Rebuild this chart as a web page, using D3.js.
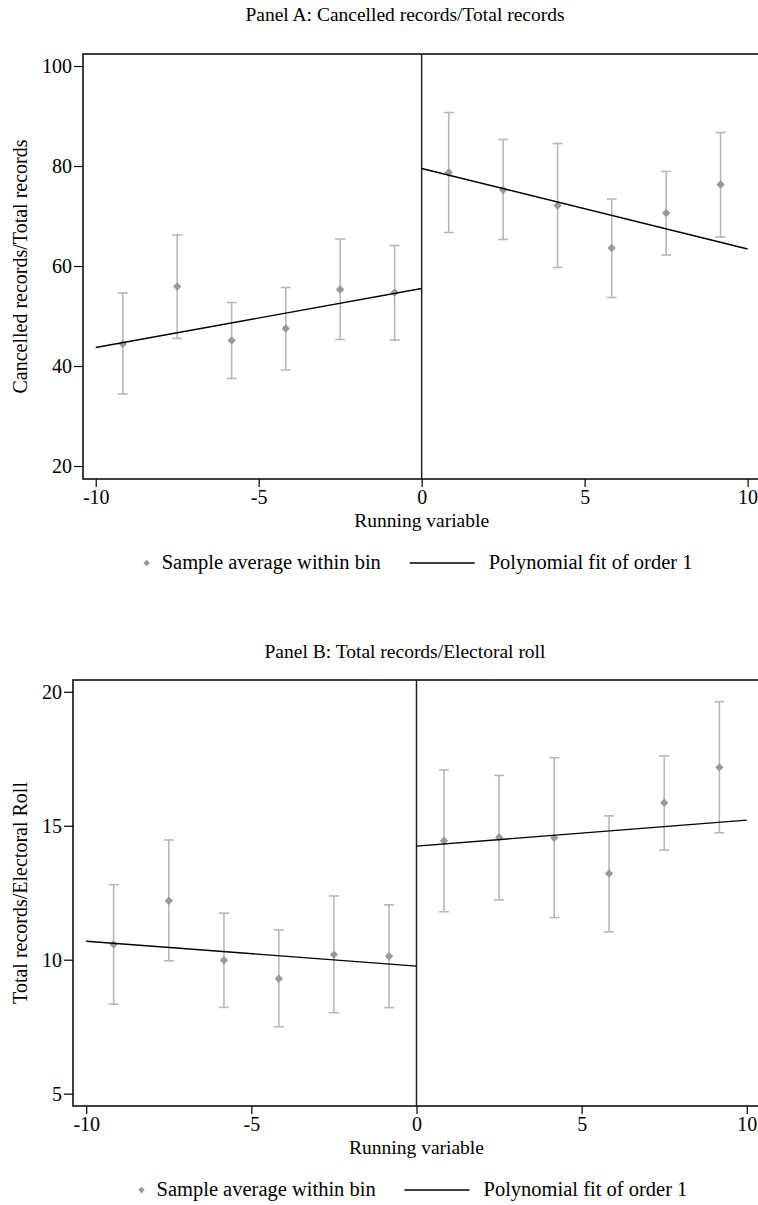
<!DOCTYPE html>
<html>
<head>
<meta charset="utf-8">
<script src="https://cdn.jsdelivr.net/npm/d3@7"></script>
<style>
  body { margin: 0; background: #fff; }
  text { font-family: "Liberation Serif", "Times New Roman", serif; fill: #000; }
</style>
</head>
<body>
<div id="chart"></div>
<script>
// Bin centres of the running variable (same for both panels)
const binCenters = [-9.17, -7.5, -5.83, -4.17, -2.5, -0.83, 0.83, 2.5, 4.17, 5.83, 7.5, 9.17];
const xTicks = [-10, -5, 0, 5, 10];

// Panel A: cancelled records / total records
const meanA = [44.4, 55.9, 45.1, 47.5, 55.3, 54.7, 78.7, 75.2, 72.1, 63.6, 70.6, 76.3];
const lowA  = [34.4, 45.5, 37.5, 39.2, 45.3, 45.2, 66.7, 65.3, 59.7, 53.7, 62.2, 65.8];
const highA = [54.6, 66.2, 52.7, 55.7, 65.4, 64.1, 90.7, 85.3, 84.5, 73.4, 78.9, 86.7];
const fitLeftA = [43.7, 55.5];   // at x = -10 and x = 0
const fitRightA = [79.5, 63.4];  // at x = 0 and x = 10
const yTicksA = [20, 40, 60, 80, 100];

// Panel B: total records / electoral roll
const meanB = [10.57, 12.20, 9.98, 9.29, 10.19, 10.13, 14.44, 14.57, 14.55, 13.22, 15.86, 17.18];
const lowB  = [8.34, 9.96, 8.22, 7.50, 8.02, 8.21, 11.79, 12.23, 11.57, 11.04, 14.09, 14.74];
const highB = [12.80, 14.47, 11.74, 11.11, 12.38, 12.05, 17.08, 16.88, 17.54, 15.37, 17.61, 19.63];
const fitLeftB = [10.69, 9.76];
const fitRightB = [14.24, 15.21];
const yTicksB = [5, 10, 15, 20];

const width = 758, height = 1205;

const svg = d3.select('#chart')
    .append('svg')
    .attr('width', width)
    .attr('height', height);

drawPanel({
    title: 'Panel A: Cancelled records/Total records',
    yTitle: 'Cancelled records/Total records',
    mean: meanA, low: lowA, high: highA,
    fitLeft: fitLeftA, fitRight: fitRightA,
    yTicks: yTicksA,
    yDomain: [17.4, 102.4],
    xDomain: [-10.39, 10.38],
    box: { left: 83, right: 760, top: 54, bottom: 479 },
    titleY: 21
});

drawPanel({
    title: 'Panel B: Total records/Electoral roll',
    yTitle: 'Total records/Electoral Roll',
    mean: meanB, low: lowB, high: highB,
    fitLeft: fitLeftB, fitRight: fitRightB,
    yTicks: yTicksB,
    yDomain: [4.54, 20.44],
    xDomain: [-10.4, 10.4],
    box: { left: 73, right: 760, top: 680, bottom: 1106 },
    titleY: 658
});

function drawPanel(p) {
    const box = p.box;
    const g = svg.append('g');

    const x = d3.scaleLinear().domain(p.xDomain).range([box.left, box.right]);
    const y = d3.scaleLinear().domain(p.yDomain).range([box.bottom, box.top]);

    // Title
    g.append('text')
        .attr('x', 405)
        .attr('y', p.titleY)
        .attr('text-anchor', 'middle')
        .style('font-size', '19.5px')
        .text(p.title);

    // Plot frame
    g.append('rect')
        .attr('x', box.left)
        .attr('y', box.top)
        .attr('width', box.right - box.left)
        .attr('height', box.bottom - box.top)
        .attr('fill', 'none')
        .attr('stroke', '#000')
        .attr('stroke-width', 1.5);

    // Axes (plain hyphen for negative ticks, as in the original)
    const plain = d => String(d);
    const yAxis = g.append('g')
        .attr('transform', `translate(${box.left},0)`)
        .call(d3.axisLeft(y).tickValues(p.yTicks).tickSize(9).tickPadding(2).tickFormat(plain));
    const xAxis = g.append('g')
        .attr('transform', `translate(0,${box.bottom})`)
        .call(d3.axisBottom(x).tickValues(xTicks).tickSize(8).tickPadding(3).tickFormat(plain));

    [yAxis, xAxis].forEach(function(a) {
        a.select('.domain').remove();
        a.selectAll('line').attr('stroke', '#000').attr('stroke-width', 1.2);
        a.selectAll('text')
            .style('font-size', '20px')
            .style('font-family', '"Liberation Serif", serif')
            .attr('fill', '#000');
    });

    // Axis titles
    g.append('text')
        .attr('transform', `translate(27,${(box.top + box.bottom) / 2}) rotate(-90)`)
        .attr('text-anchor', 'middle')
        .style('font-size', '20px')
        .text(p.yTitle);

    g.append('text')
        .attr('x', x(0))
        .attr('y', box.bottom + 48)
        .attr('text-anchor', 'middle')
        .style('font-size', '19.5px')
        .text('Running variable');

    // Cutoff line
    g.append('line')
        .attr('x1', x(0)).attr('x2', x(0))
        .attr('y1', box.top).attr('y2', box.bottom)
        .attr('stroke', '#222')
        .attr('stroke-width', 1.5);

    const bins = binCenters.map(function(c, i) {
        return { x: c, mean: p.mean[i], low: p.low[i], high: p.high[i] };
    });

    // Error bars
    const bars = g.selectAll('.bar').data(bins).enter().append('g').attr('class', 'bar');
    bars.append('line')
        .attr('x1', d => x(d.x)).attr('x2', d => x(d.x))
        .attr('y1', d => y(d.low)).attr('y2', d => y(d.high));
    bars.append('line')
        .attr('x1', d => x(d.x) - 5).attr('x2', d => x(d.x) + 5)
        .attr('y1', d => y(d.low)).attr('y2', d => y(d.low));
    bars.append('line')
        .attr('x1', d => x(d.x) - 5).attr('x2', d => x(d.x) + 5)
        .attr('y1', d => y(d.high)).attr('y2', d => y(d.high));
    bars.selectAll('line')
        .attr('stroke', '#b8b8b8')
        .attr('stroke-width', 1.6);

    // Diamonds
    const diamond = d3.symbol().type(d3.symbolDiamond2).size(44);
    g.selectAll('.pt').data(bins).enter().append('path')
        .attr('class', 'pt')
        .attr('d', diamond)
        .attr('transform', d => `translate(${x(d.x)},${y(d.mean)})`)
        .attr('fill', '#999');

    // Linear fits on each side of the cutoff
    const line = d3.line().x(d => x(d[0])).y(d => y(d[1]));
    g.append('path')
        .attr('d', line([[-10, p.fitLeft[0]], [0, p.fitLeft[1]]]))
        .attr('stroke', '#000').attr('stroke-width', 1.4).attr('fill', 'none');
    g.append('path')
        .attr('d', line([[0, p.fitRight[0]], [10, p.fitRight[1]]]))
        .attr('stroke', '#000').attr('stroke-width', 1.4).attr('fill', 'none');

    // Legend
    const ly = box.bottom + 84;
    const lx = x(0) - 275;
    g.append('path')
        .attr('d', d3.symbol().type(d3.symbolDiamond2).size(26)())
        .attr('transform', `translate(${lx},${ly})`)
        .attr('fill', '#999');
    g.append('text')
        .attr('x', lx + 15)
        .attr('y', ly + 6)
        .style('font-size', '20.5px')
        .text('Sample average within bin');
    g.append('line')
        .attr('x1', lx + 263).attr('x2', lx + 328)
        .attr('y1', ly).attr('y2', ly)
        .attr('stroke', '#000').attr('stroke-width', 1.4);
    g.append('text')
        .attr('x', lx + 342)
        .attr('y', ly + 6)
        .style('font-size', '20.5px')
        .text('Polynomial fit of order 1');
}
</script>
</body>
</html>
